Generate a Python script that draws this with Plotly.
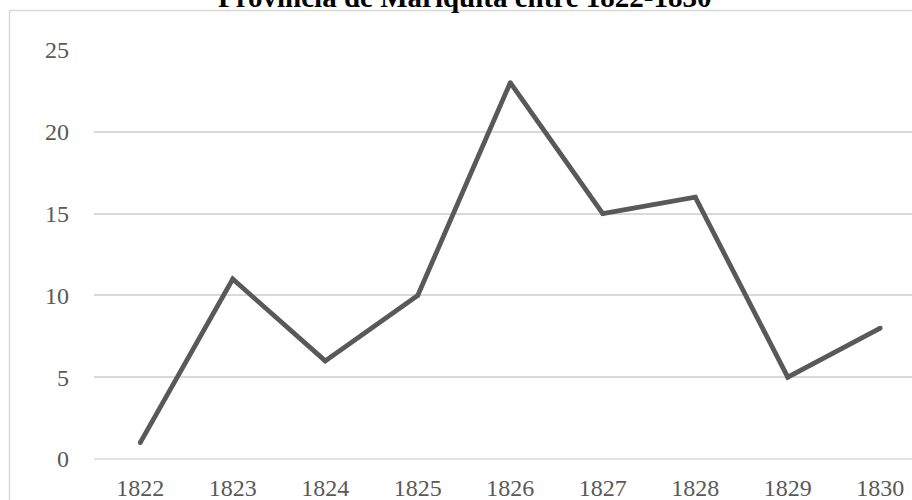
import plotly.graph_objects as go

years = ["1822", "1823", "1824", "1825", "1826", "1827", "1828", "1829", "1830"]
values = [1, 11, 6, 10, 23, 15, 16, 5, 8]
title_text = "Provincia de Mariquita entre 1822-1830"
y_ticks = [0, 5, 10, 15, 20, 25]

W, H = 912, 500
L, R, T, B = 94, 0, 50, 41
pw, ph = W - L - R, H - T - B

def px_x(x):
    return (x - L) / pw

def px_y(y):
    return (H - B - y) / ph

line_col = "#595959"
grid_col = "#d9d9d9"

fig = go.Figure()
fig.add_trace(go.Scatter(
    x=years, y=values, mode="lines+markers",
    line=dict(color=line_col, width=4.8),
    marker=dict(color=line_col, size=4.8, line=dict(width=0)),
    hoverinfo="skip", showlegend=False,
))

fig.update_layout(
    width=W, height=H,
    margin=dict(l=L, r=R, t=T, b=B, pad=0),
    paper_bgcolor="white", plot_bgcolor="white",
    font=dict(family="Liberation Serif", color=line_col, size=24),
    xaxis=dict(
        type="category", range=[-0.5, 8.343],
        showgrid=False, zeroline=False,
        showline=False, ticks="", ticklabelstandoff=12,
        tickfont=dict(family="Liberation Serif", size=24, color=line_col),
    ),
    yaxis=dict(
        range=[0, 25], tickvals=y_ticks,
        showgrid=True, gridcolor=grid_col, gridwidth=1.5,
        zeroline=False, showline=False, ticks="", ticklabelstandoff=24,
        tickfont=dict(family="Liberation Serif", size=24, color=line_col),
    ),
    shapes=[
        dict(type="line", xref="paper", yref="paper",
             x0=px_x(9.5), x1=px_x(W), y0=px_y(10.5), y1=px_y(10.5),
             line=dict(color=grid_col, width=1.5)),
        dict(type="line", xref="paper", yref="paper",
             x0=px_x(9.5), x1=px_x(9.5), y0=px_y(10.5), y1=px_y(H),
             line=dict(color=grid_col, width=1.5)),
        dict(type="line", xref="paper", yref="paper",
             x0=0, x1=1, y0=0, y1=0, layer="below",
             line=dict(color=grid_col, width=1.5)),
    ],
    annotations=[dict(
        text="<b>" + title_text + "</b>", xref="paper", yref="paper",
        x=px_x(464), y=px_y(15), xanchor="center", yanchor="bottom",
        showarrow=False, font=dict(family="Liberation Serif", size=29, color="black"),
    )],
)

fig.write_html(
    "out.html",
    config={"displayModeBar": False},
    post_script="document.body.style.margin='0';document.body.style.overflow='hidden';",
)
